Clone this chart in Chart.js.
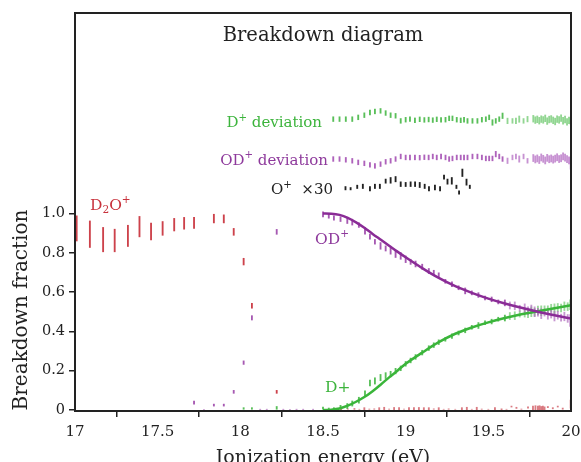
<!DOCTYPE html>
<html><head><meta charset="utf-8">
<script src="https://cdn.jsdelivr.net/npm/chart.js@4.4.0/dist/chart.umd.min.js"></script>
<style>html,body{margin:0;padding:0;background:#fff;}</style>
</head><body>
<canvas id="c" width="581" height="462"></canvas>
<script>
// ---------- texts ----------
const chartTitle = 'Breakdown diagram';
const xTitle = 'Ionization energy (eV)';
const yTitle = 'Breakdown fraction';

// ---------- ticks ----------
const xTickValues = [17, 17.5, 18, 18.5, 19, 19.5, 20];
const xTickLabels = ['17', '17.5', '18', '18.5', '19', '19.5', '20'];
const yTickValues = [0, 0.2, 0.4, 0.6, 0.8, 1.0];
const yTickLabels = ['0', '0.2', '0.4', '0.6', '0.8', '1.0'];

// ---------- D2O+ (parent ion) ----------
const d2oE  = [17.01,17.09,17.17,17.24,17.32,17.39,17.46,17.53,17.60,17.66,17.72,17.84,17.90,17.96,18.02,18.07,18.22];
const d2oLo = [0.860,0.827,0.805,0.805,0.832,0.881,0.866,0.889,0.911,0.920,0.924,0.952,0.952,0.889,0.738,0.518,0.085];
const d2oHi = [0.988,0.962,0.929,0.920,0.940,0.985,0.951,0.959,0.975,0.980,0.980,0.996,0.993,0.924,0.772,0.543,0.100];

const d2oTailE  = [18.56,18.61,18.65,18.69,18.72,18.75,18.78,18.81,18.84,18.87,18.90,18.93,18.96,18.99,19.02,19.05,19.08,19.11,19.14,19.17,19.20,19.23,19.26,19.30,19.34,19.37,19.40,19.43,19.46,19.50,19.54,19.58,19.61,19.64,19.67,19.70,19.74,19.77,19.785,19.80,19.81,19.82,19.83,19.84,19.86,19.89,19.92,19.95,19.998];
const d2oTailLo = [0.000,0.002,0.000,0.003,0.000,-0.004,0.000,0.000,-0.004,-0.004,0.000,-0.004,-0.004,0.000,-0.004,-0.004,-0.004,-0.004,-0.004,0.000,-0.004,0.000,0.000,0.000,-0.004,-0.004,0.000,-0.004,0.000,0.000,-0.004,0.002,0.000,0.015,0.008,0.000,0.010,-0.004,-0.004,-0.004,-0.004,-0.004,-0.004,-0.004,0.012,0.006,0.015,0.004,0.010];
const d2oTailHi = [0.004,0.006,0.005,0.008,0.004,0.012,0.005,0.006,0.012,0.014,0.005,0.013,0.013,0.005,0.012,0.012,0.013,0.012,0.012,0.006,0.012,0.004,0.006,0.004,0.012,0.014,0.004,0.014,0.005,0.004,0.012,0.006,0.004,0.020,0.014,0.005,0.016,0.020,0.022,0.020,0.022,0.018,0.020,0.016,0.018,0.012,0.020,0.010,0.050];

// ---------- OD+ ----------
const odE  = [17.72,17.78,17.84,17.90,17.96,18.02,18.07,18.12,18.16,18.22,18.26,18.30,18.34,18.38,18.44,18.50];
const odLo = [0.030,0.000,0.020,0.020,0.085,0.232,0.458,0.000,0.000,0.894,0.000,0.000,0.000,0.000,0.000,0.982];
const odHi = [0.045,0.004,0.030,0.030,0.100,0.250,0.480,0.004,0.004,0.919,0.004,0.004,0.004,0.004,0.004,1.008];

// ---------- D+ ----------
const dpE  = [18.02,18.07,18.22,18.50];
const dpLo = [0.000,0.000,0.000,0.000];
const dpHi = [0.012,0.012,0.018,0.015];

// ---------- high-energy data (OD+ and D+) ----------
const hiE = [18.535,18.566,18.606,18.647,18.677,18.717,18.754,18.784,18.814,18.848,18.879,18.909,18.939,18.970,19.000,19.030,19.060,19.100,19.140,19.170,19.200,19.240,19.280,19.320,19.360,19.400,19.440,19.480,19.520,19.560,19.600,19.630,19.660,19.690,19.720,19.740,19.760,19.780,19.800,19.820,19.840,19.860,19.880,19.900,19.920,19.940,19.960,19.980,19.995];
const odMid = [0.988,0.977,0.971,0.964,0.956,0.941,0.912,0.882,0.856,0.835,0.822,0.810,0.793,0.784,0.767,0.754,0.743,0.729,0.707,0.699,0.686,0.655,0.640,0.622,0.606,0.596,0.585,0.570,0.563,0.550,0.545,0.532,0.530,0.518,0.515,0.505,0.512,0.500,0.497,0.490,0.496,0.484,0.488,0.478,0.482,0.470,0.476,0.466,0.455];
const odErr = [0.012,0.011,0.012,0.015,0.015,0.012,0.017,0.013,0.012,0.017,0.013,0.017,0.017,0.017,0.017,0.013,0.015,0.013,0.013,0.012,0.012,0.010,0.012,0.010,0.015,0.010,0.012,0.010,0.012,0.010,0.015,0.018,0.020,0.015,0.025,0.020,0.022,0.025,0.020,0.025,0.018,0.022,0.020,0.025,0.020,0.018,0.022,0.020,0.030];
const dpMid = [0.004,0.006,0.012,0.020,0.033,0.050,0.085,0.137,0.148,0.165,0.175,0.183,0.198,0.212,0.235,0.252,0.270,0.292,0.315,0.330,0.345,0.360,0.376,0.392,0.405,0.421,0.430,0.444,0.450,0.462,0.468,0.478,0.480,0.488,0.495,0.490,0.500,0.497,0.507,0.505,0.512,0.508,0.518,0.515,0.522,0.519,0.528,0.526,0.535];
const dpErr = [0.006,0.006,0.012,0.013,0.013,0.015,0.013,0.015,0.016,0.016,0.015,0.014,0.014,0.012,0.012,0.012,0.012,0.012,0.012,0.012,0.012,0.010,0.012,0.010,0.012,0.010,0.015,0.010,0.012,0.010,0.015,0.018,0.020,0.015,0.022,0.020,0.025,0.020,0.022,0.025,0.018,0.022,0.020,0.025,0.020,0.020,0.022,0.020,0.025];

// ---------- fitted curves ----------
const fitE  = [18.50,18.55,18.60,18.65,18.70,18.75,18.80,18.85,18.90,18.95,19.00,19.10,19.20,19.30,19.40,19.50,19.60,19.70,19.80,19.90,20.00];
const odFit = [1.000,0.999,0.993,0.978,0.955,0.927,0.896,0.866,0.836,0.806,0.777,0.722,0.672,0.630,0.596,0.567,0.542,0.520,0.500,0.482,0.465];
const dpFit = [0.000,0.002,0.008,0.022,0.042,0.066,0.096,0.130,0.166,0.200,0.235,0.292,0.345,0.388,0.420,0.446,0.468,0.487,0.502,0.518,0.533];

// ---------- deviations (offset) ----------
const devE = [18.562,18.600,18.638,18.677,18.713,18.750,18.784,18.814,18.848,18.879,18.909,18.939,18.970,19.000,19.026,19.056,19.085,19.113,19.139,19.164,19.188,19.214,19.241,19.263,19.283,19.309,19.333,19.353,19.374,19.404,19.434,19.461,19.485,19.505,19.525,19.545,19.566,19.586,19.616,19.646,19.667,19.687,19.713,19.737,19.772,19.784,19.796,19.808,19.820,19.832,19.844,19.856,19.868,19.880,19.892,19.904,19.916,19.928,19.940,19.952,19.964,19.976,19.988,19.998];
const dpDev = [1.480,1.480,1.480,1.480,1.489,1.500,1.514,1.519,1.522,1.511,1.500,1.497,1.471,1.477,1.480,1.474,1.479,1.476,1.478,1.475,1.479,1.476,1.477,1.484,1.484,1.477,1.474,1.477,1.471,1.471,1.471,1.477,1.480,1.489,1.463,1.471,1.480,1.497,1.471,1.471,1.471,1.480,1.471,1.480,1.482,1.475,1.479,1.472,1.480,1.476,1.484,1.470,1.478,1.481,1.474,1.468,1.480,1.476,1.485,1.472,1.478,1.466,1.474,1.470];
const dpDevErr = [0.012,0.012,0.012,0.012,0.012,0.012,0.012,0.012,0.012,0.012,0.012,0.012,0.012,0.012,0.012,0.012,0.012,0.012,0.012,0.012,0.012,0.012,0.012,0.012,0.012,0.012,0.012,0.012,0.012,0.012,0.012,0.012,0.012,0.012,0.014,0.012,0.012,0.014,0.014,0.012,0.014,0.016,0.012,0.014,0.017,0.017,0.017,0.017,0.017,0.017,0.017,0.017,0.017,0.017,0.017,0.017,0.017,0.017,0.017,0.017,0.017,0.017,0.017,0.017];
const odDev = [1.277,1.277,1.273,1.268,1.260,1.255,1.247,1.242,1.251,1.263,1.268,1.277,1.290,1.285,1.285,1.285,1.284,1.286,1.285,1.290,1.285,1.290,1.285,1.277,1.280,1.285,1.285,1.285,1.285,1.290,1.290,1.285,1.280,1.280,1.280,1.302,1.290,1.277,1.268,1.285,1.290,1.277,1.290,1.268,1.282,1.275,1.280,1.272,1.285,1.278,1.270,1.283,1.276,1.280,1.274,1.279,1.286,1.277,1.281,1.290,1.284,1.276,1.270,1.255];
const odDevErr = [0.012,0.012,0.012,0.012,0.012,0.012,0.012,0.012,0.012,0.012,0.012,0.012,0.012,0.012,0.012,0.012,0.012,0.012,0.012,0.012,0.012,0.012,0.012,0.012,0.012,0.012,0.012,0.012,0.012,0.012,0.012,0.012,0.012,0.012,0.012,0.014,0.012,0.012,0.014,0.012,0.012,0.016,0.012,0.012,0.018,0.018,0.018,0.018,0.018,0.018,0.018,0.018,0.018,0.018,0.018,0.018,0.018,0.018,0.018,0.018,0.018,0.018,0.018,0.030];

// ---------- O+ x30 ----------
const oE  = [18.636,18.667,18.707,18.741,18.784,18.814,18.844,18.879,18.909,18.939,18.970,19.000,19.030,19.057,19.085,19.115,19.141,19.177,19.208,19.232,19.253,19.279,19.307,19.323,19.343,19.368,19.388];
const oLo = [1.120,1.120,1.127,1.127,1.115,1.127,1.127,1.154,1.154,1.161,1.137,1.137,1.137,1.137,1.132,1.127,1.115,1.120,1.115,1.175,1.149,1.149,1.127,1.098,1.188,1.144,1.127];
const oHi = [1.137,1.132,1.144,1.149,1.137,1.149,1.149,1.175,1.183,1.188,1.161,1.158,1.161,1.161,1.158,1.149,1.137,1.144,1.137,1.195,1.175,1.183,1.144,1.115,1.226,1.175,1.144];

// ---------- build library data ----------
const rng = (xs, lo, hi) => xs.map((x, i) => ({x: x, y: [lo[i], hi[i]]}));
const mid = (xs, m, e) => xs.map((x, i) => ({x: x, y: [m[i] - e[i], m[i] + e[i]]}));
const pts = (xs, ys) => xs.map((x, i) => ({x: x, y: ys[i]}));

const RED = '#c8323c', PURPLE = '#8e3a9c', GREEN = '#3cb43c';
const shade = (dark, light) => (c) => (c.raw && c.raw.x > 19.6 ? light : dark);

const barDs = (data, color) => ({
  type: 'bar', data: data, backgroundColor: color, borderWidth: 0,
  barThickness: 1.2, grouped: false, order: 1
});

const FONT = '"DejaVu Serif", "Liberation Serif", serif';

function drawRich(ctx, parts, x, y, size, color, align) {
  const fontFor = (m) => (m ? (size * 0.68) : size) + 'px ' + FONT;
  let w = 0;
  parts.forEach(p => { ctx.font = fontFor(p[1]); w += ctx.measureText(p[0]).width; });
  let cx = align === 'right' ? x - w : x;
  ctx.fillStyle = color; ctx.textAlign = 'left'; ctx.textBaseline = 'alphabetic';
  parts.forEach(p => {
    ctx.font = fontFor(p[1]);
    let dy = 0;
    if (p[1] === 'sup') dy = -size * 0.42;
    if (p[1] === 'sub') dy = size * 0.22;
    ctx.fillText(p[0], cx, y + dy);
    cx += ctx.measureText(p[0]).width;
  });
}

const decor = {
  id: 'decor',
  afterDraw(chart) {
    const c = chart.ctx, a = chart.chartArea;
    c.save();
    c.strokeStyle = '#222'; c.lineWidth = 2;
    c.strokeRect(a.left, a.top, a.right - a.left, a.bottom - a.top);
    c.fillStyle = '#222'; c.textAlign = 'center'; c.textBaseline = 'alphabetic';
    c.font = '19.5px ' + FONT;
    c.fillText(chartTitle, (a.left + a.right) / 2, 41);
    c.font = '19px ' + FONT;
    c.fillText(xTitle, (a.left + a.right) / 2, 463);
    c.save();
    c.translate(27, 310); c.rotate(-Math.PI / 2);
    c.font = '20px ' + FONT; c.fillText(yTitle, 0, 0);
    c.restore();
    drawRich(c, [['D', ''], ['2', 'sub'], ['O', ''], ['+', 'sup']], 90, 210, 15.5, RED, 'left');
    drawRich(c, [['OD', ''], ['+', 'sup']], 315, 244, 15.5, PURPLE, 'left');
    drawRich(c, [['D+', '']], 325, 391.5, 15.5, GREEN, 'left');
    drawRich(c, [['D', ''], ['+', 'sup'], [' deviation', '']], 322, 127, 15, GREEN, 'right');
    drawRich(c, [['OD', ''], ['+', 'sup'], [' deviation', '']], 328, 164.5, 15, PURPLE, 'right');
    drawRich(c, [['O', ''], ['+', 'sup'], ['  \u00d730', '']], 271, 194, 15, '#222', 'left');
    c.restore();
  }
};

new Chart(document.getElementById('c'), {
  type: 'bar',
  data: {
    datasets: [
      {type: 'line', data: pts(fitE, odFit), borderColor: '#8a2c96', borderWidth: 2.5, pointRadius: 0, cubicInterpolationMode: 'monotone', fill: false, order: 0},
      {type: 'line', data: pts(fitE, dpFit), borderColor: '#3ab53a', borderWidth: 2.5, pointRadius: 0, cubicInterpolationMode: 'monotone', fill: false, order: 0},
      barDs(rng(d2oE, d2oLo, d2oHi), 'rgba(200,45,55,0.9)'),
      barDs(rng(d2oTailE, d2oTailLo, d2oTailHi), 'rgba(205,80,90,0.75)'),
      barDs(rng(odE, odLo, odHi), 'rgba(150,60,165,0.85)'),
      barDs(rng(dpE, dpLo, dpHi), 'rgba(60,180,60,0.85)'),
      barDs(mid(hiE, odMid, odErr), shade('rgba(150,60,165,0.85)', 'rgba(175,105,190,0.7)')),
      barDs(mid(hiE, dpMid, dpErr), shade('rgba(60,180,60,0.85)', 'rgba(110,200,110,0.7)')),
      barDs(mid(devE, dpDev, dpDevErr), shade('rgba(60,180,60,0.85)', 'rgba(110,200,110,0.75)')),
      barDs(mid(devE, odDev, odDevErr), shade('rgba(160,70,175,0.85)', 'rgba(180,110,195,0.75)')),
      barDs(rng(oE, oLo, oHi), '#222')
    ]
  },
  options: {
    responsive: false, animation: false, events: [],
    layout: {padding: {top: 13, right: 10, left: 0, bottom: 0}},
    plugins: {legend: {display: false}, tooltip: {enabled: false}, title: {display: false}},
    scales: {
      x: {
        type: 'linear', min: 17, max: 20, offset: false,
        grid: {display: true, drawOnChartArea: false, drawTicks: true, tickLength: 6, color: '#222', lineWidth: 1.5},
        border: {display: true, color: '#222', width: 2},
        ticks: {color: '#222', font: {family: FONT, size: 15}, padding: 6, maxRotation: 0, autoSkip: false,
                callback: (v, i) => xTickLabels[i]},
        afterBuildTicks: (s) => { s.ticks = xTickValues.map(v => ({value: v})); },
        afterFit: (s) => { s.height = 51; s.paddingLeft = 0; s.paddingRight = 0; }
      },
      y: {
        type: 'linear', min: -0.005, max: 2.02,
        grid: {display: true, drawOnChartArea: false, drawTicks: true, tickLength: 6, color: '#222', lineWidth: 1.5},
        border: {display: true, color: '#222', width: 2},
        ticks: {color: '#222', font: {family: FONT, size: 14.5}, padding: 4,
                callback: (v, i) => yTickLabels[i]},
        afterBuildTicks: (s) => { s.ticks = yTickValues.map(v => ({value: v})); },
        afterFit: (s) => { s.width = 75; s.paddingTop = 0; s.paddingBottom = 0; }
      }
    }
  },
  plugins: [decor]
});
</script>
</body></html>
